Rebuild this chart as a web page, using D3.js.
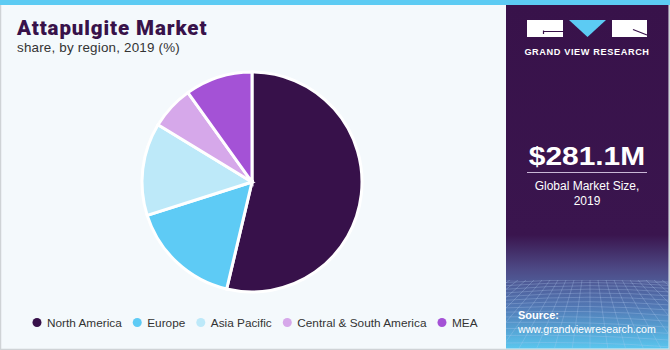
<!DOCTYPE html>
<html>
<head>
<meta charset="utf-8">
<script src="https://cdn.jsdelivr.net/npm/d3@7"></script>
<style>
  html, body { margin: 0; padding: 0; background: #ffffff; }
  svg { display: block; font-family: "Liberation Sans", Arial, sans-serif; }
</style>
</head>
<body>
<svg id="chart" width="670" height="350"></svg>
<script>
// Regional share of the attapulgite market, 2019 (%)
const regions = ["North America", "Europe", "Asia Pacific", "Central & South America", "MEA"];
const shares = [53.7, 16.4, 13.6, 6.4, 9.9];
const colors = ["#37114a", "#5ecbf5", "#bde9f9", "#d6a8ea", "#a452d6"];

const marketSize = "$281.1M";
const marketLabel = ["Global Market Size,", "2019"];

const W = 670, H = 350, panelX = 506;
const svg = d3.select("#chart");

// page background and frame
svg.append("rect").attr("x", 0).attr("y", 0).attr("width", W).attr("height", H).attr("fill", "#f4f9fc");
svg.append("rect").attr("x", 0.5).attr("y", 0.5).attr("width", W - 1).attr("height", H - 1)
  .attr("fill", "none").attr("stroke", "#cfd3d6").attr("stroke-width", 1.5);

// side panel with gradient base
const defs = svg.append("defs");
const grad = defs.append("linearGradient").attr("id", "panelGrad")
  .attr("x1", 0).attr("y1", 0).attr("x2", 0).attr("y2", 1);
grad.append("stop").attr("offset", "0").attr("stop-color", "#38124a");
grad.append("stop").attr("offset", "0.67").attr("stop-color", "#3a154e");
grad.append("stop").attr("offset", "0.77").attr("stop-color", "#4d4a86");
grad.append("stop").attr("offset", "0.88").attr("stop-color", "#5279b5");
grad.append("stop").attr("offset", "1").attr("stop-color", "#5ac6ee");
svg.append("rect").attr("x", panelX).attr("y", 4).attr("width", W - panelX - 1.5).attr("height", H - 5.5)
  .attr("fill", "url(#panelGrad)");

// mesh texture near the bottom of the panel
defs.append("clipPath").attr("id", "meshClip").append("rect")
  .attr("x", panelX).attr("y", 280).attr("width", W - panelX - 1.5).attr("height", 68);
const mesh = svg.append("g").attr("clip-path", "url(#meshClip)")
  .attr("stroke", "#b4cdf0").attr("stroke-opacity", 0.4).attr("stroke-width", 0.7).attr("fill", "none");
const horizon = 280, vpX = 590;
for (let i = 0; i < 16; i++) {
  const t = i / 15;
  const y = horizon + Math.pow(t, 1.5) * 72;
  mesh.append("path").attr("d", `M${panelX},${y + 3 * Math.sin(t * 6)} Q${590},${y - 4} ${W},${y + 2}`);
}
for (let i = -16; i <= 16; i++) {
  mesh.append("line").attr("x1", vpX + i * 8).attr("y1", horizon).attr("x2", vpX + i * 18).attr("y2", H);
}

// top accent strip
svg.append("rect").attr("x", 0).attr("y", 0).attr("width", W).attr("height", 5).attr("fill", "#5ccbf3");

// logo
const logo = svg.append("g");
logo.append("rect").attr("x", 527).attr("y", 20).attr("width", 36).attr("height", 17).attr("fill", "#ffffff");
logo.append("path").attr("d", "M543,31.5 L563,31.5 M543.5,30.5 L543.5,34").attr("stroke", "#38124a").attr("stroke-width", 1.2);
logo.append("path").attr("d", "M569,20 L606,20 L587.5,37 Z").attr("fill", "#5ccbf3");
logo.append("rect").attr("x", 612).attr("y", 20).attr("width", 35).attr("height", 17).attr("fill", "#ffffff");
logo.append("path").attr("d", "M633,29.5 L647,35").attr("stroke", "#38124a").attr("stroke-width", 1.2);
logo.append("text").attr("x", 587).attr("y", 55).attr("text-anchor", "middle")
  .attr("fill", "#ffffff").attr("font-size", 9.2).attr("font-weight", "bold").attr("letter-spacing", 0.6)
  .text("GRAND VIEW RESEARCH");

// market size block
svg.append("text").attr("x", 587).attr("y", 165).attr("text-anchor", "middle")
  .attr("fill", "#ffffff").attr("font-size", 26).attr("font-weight", "bold")
  .attr("font-family", "'Liberation Sans Narrow', 'Liberation Sans', Arial, sans-serif")
  .attr("transform", "translate(587,165) scale(1.15,1) translate(-587,-165)")
  .text(marketSize);
svg.append("line").attr("x1", 527).attr("x2", 647).attr("y1", 172.5).attr("y2", 172.5)
  .attr("stroke", "#c9b7d6").attr("stroke-width", 1);
svg.selectAll("text.mlabel").data(marketLabel).join("text").attr("class", "mlabel")
  .attr("x", 587).attr("y", (d, i) => 190 + i * 15).attr("text-anchor", "middle")
  .attr("fill", "#ffffff").attr("font-size", 12).text(d => d);

// source
svg.append("text").attr("x", 518).attr("y", 319).attr("fill", "#ffffff")
  .attr("font-size", 11).attr("font-weight", "bold").text("Source:");
svg.append("text").attr("x", 518).attr("y", 333).attr("fill", "#ffffff")
  .attr("font-size", 10.6).text("www.grandviewresearch.com");

// title
svg.append("text").attr("x", 17).attr("y", 35).attr("fill", "#38124a")
  .attr("font-size", 20.5).attr("font-weight", 900).attr("font-family", "Roboto, 'Liberation Sans', sans-serif")
  .attr("letter-spacing", 0.9)
  .text("Attapulgite Market");
svg.append("text").attr("x", 17).attr("y", 52).attr("fill", "#333333")
  .attr("font-size", 13.4).attr("letter-spacing", 0.2).text("share, by region, 2019 (%)");

// pie
const cx = 252, cy = 182, r = 110;
const pie = d3.pie().sort(null).value(d => d.value);
const arc = d3.arc().innerRadius(0).outerRadius(r);
const data = regions.map((name, i) => ({ name, value: shares[i], color: colors[i] }));
svg.append("g").attr("transform", `translate(${cx},${cy})`)
  .selectAll("path").data(pie(data)).join("path")
  .attr("d", arc).attr("fill", d => d.data.color)
  .attr("stroke", "#ffffff").attr("stroke-width", 3).attr("stroke-linejoin", "miter");

// legend
const legend = svg.append("g");
let lx = 37;
data.forEach(d => {
  const g = legend.append("g");
  g.append("circle").attr("cx", lx).attr("cy", 322.5).attr("r", 4.5).attr("fill", d.color);
  const t = g.append("text").attr("x", lx + 10).attr("y", 327).attr("fill", "#333333")
    .attr("font-size", 11.8).text(d.name);
  lx += 10 + t.node().getComputedTextLength() + 15.5;
});
</script>
</body>
</html>
